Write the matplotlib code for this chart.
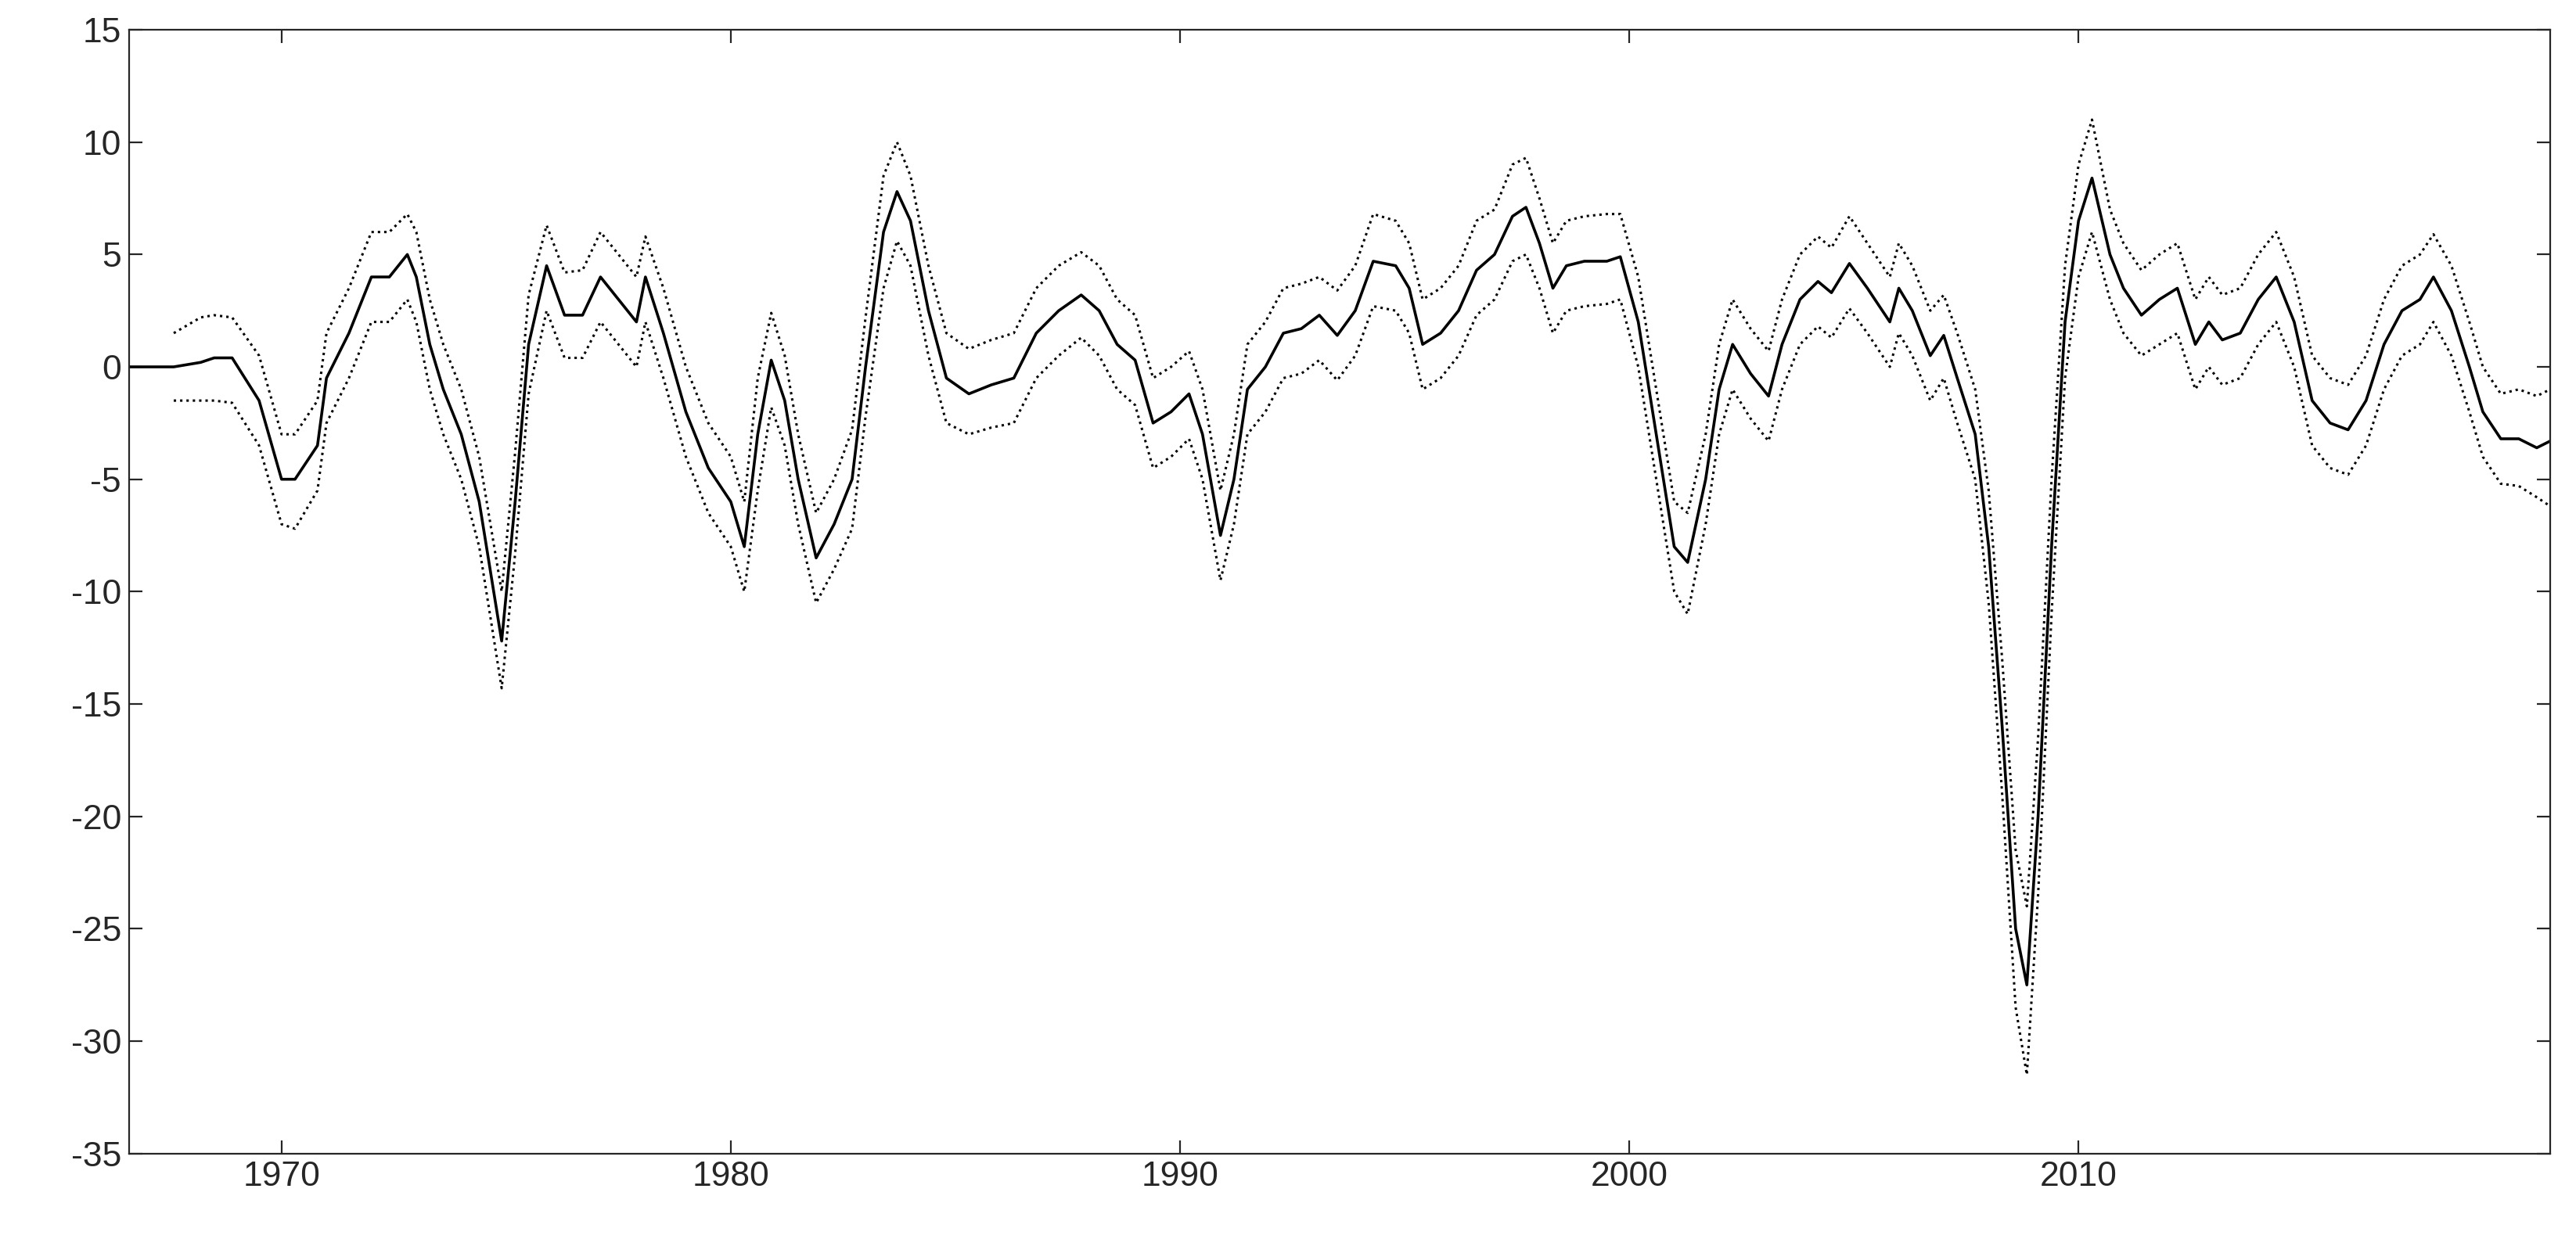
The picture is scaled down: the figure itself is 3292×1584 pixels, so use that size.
import numpy as np
import matplotlib
matplotlib.use('Agg')
from matplotlib import pyplot as plt

plt.rcParams['font.family'] = ['Liberation Sans', 'DejaVu Sans']
plt.rcParams['axes.unicode_minus'] = False

# dates (fractional years), central estimate, upper and lower bands
dates = [1966.6, 1967.6, 1968.2, 1968.5, 1968.9, 1969.5, 1970.0, 1970.3, 1970.8, 1971.0,
         1971.5, 1972.0, 1972.4, 1972.8, 1973.0, 1973.3, 1973.6, 1974.0, 1974.4, 1974.9,
         1975.2, 1975.5, 1975.9, 1976.3, 1976.7, 1977.1, 1977.5, 1977.9, 1978.1, 1978.5,
         1979.0, 1979.5, 1980.0, 1980.3, 1980.6, 1980.9, 1981.2, 1981.5, 1981.9, 1982.3,
         1982.7, 1983.0, 1983.4, 1983.7, 1984.0, 1984.4, 1984.8, 1985.3, 1985.8, 1986.3,
         1986.8, 1987.3, 1987.8, 1988.2, 1988.6, 1989.0, 1989.4, 1989.8, 1990.2, 1990.5,
         1990.9, 1991.2, 1991.5, 1991.9, 1992.3, 1992.7, 1993.1, 1993.5, 1993.9, 1994.3,
         1994.8, 1995.1, 1995.4, 1995.8, 1996.2, 1996.6, 1997.0, 1997.4, 1997.7, 1998.0,
         1998.3, 1998.6, 1999.0, 1999.5, 1999.8, 2000.2, 2000.6, 2001.0, 2001.3, 2001.7,
         2002.0, 2002.3, 2002.7, 2003.1, 2003.4, 2003.8, 2004.2, 2004.5, 2004.9, 2005.3,
         2005.8, 2006.0, 2006.3, 2006.7, 2007.0, 2007.3, 2007.7, 2008.0, 2008.3, 2008.6,
         2008.85, 2009.1, 2009.4, 2009.7, 2010.0, 2010.3, 2010.7, 2011.0, 2011.4, 2011.8,
         2012.2, 2012.6, 2012.9, 2013.2, 2013.6, 2014.0, 2014.4, 2014.8, 2015.2, 2015.6,
         2016.0, 2016.4, 2016.8, 2017.2, 2017.6, 2017.9, 2018.3, 2018.7, 2019.0, 2019.4,
         2019.8, 2020.2, 2020.5]

central = [0.0, 0.0, 0.2, 0.4, 0.4, -1.5, -5.0, -5.0, -3.5, -0.5,
           1.5, 4.0, 4.0, 5.0, 4.0, 1.0, -1.0, -3.0, -6.0, -12.2,
           -6.0, 1.0, 4.5, 2.3, 2.3, 4.0, 3.0, 2.0, 4.0, 1.5,
           -2.0, -4.5, -6.0, -8.0, -3.0, 0.3, -1.5, -5.0, -8.5, -7.0,
           -5.0, 0.0, 6.0, 7.8, 6.5, 2.5, -0.5, -1.2, -0.8, -0.5,
           1.5, 2.5, 3.2, 2.5, 1.0, 0.3, -2.5, -2.0, -1.2, -3.0,
           -7.5, -5.0, -1.0, 0.0, 1.5, 1.7, 2.3, 1.4, 2.5, 4.7,
           4.5, 3.5, 1.0, 1.5, 2.5, 4.3, 5.0, 6.7, 7.1, 5.5,
           3.5, 4.5, 4.7, 4.7, 4.9, 2.0, -3.0, -8.0, -8.7, -5.0,
           -1.0, 1.0, -0.3, -1.3, 1.0, 3.0, 3.8, 3.3, 4.6, 3.5,
           2.0, 3.5, 2.5, 0.5, 1.4, -0.5, -3.0, -8.0, -16.0, -25.0,
           -27.5, -20.0, -8.0, 2.0, 6.5, 8.4, 5.0, 3.5, 2.3, 3.0,
           3.5, 1.0, 2.0, 1.2, 1.5, 3.0, 4.0, 2.0, -1.5, -2.5,
           -2.8, -1.5, 1.0, 2.5, 3.0, 4.0, 2.5, 0.0, -2.0, -3.2,
           -3.2, -3.6, -3.3]

upper = [np.nan, 1.5, 2.2, 2.3, 2.2, 0.5, -3.0, -3.0, -1.5, 1.5,
         3.5, 6.0, 6.0, 6.8, 6.0, 3.0, 1.0, -1.0, -4.0, -10.0,
         -3.8, 3.2, 6.3, 4.2, 4.3, 6.0, 5.0, 4.0, 5.8, 3.5,
         0.0, -2.5, -4.0, -6.0, -0.5, 2.4, 0.5, -3.0, -6.5, -5.0,
         -2.8, 2.2, 8.5, 10.0, 8.5, 4.5, 1.5, 0.8, 1.2, 1.5,
         3.5, 4.5, 5.1, 4.5, 3.0, 2.3, -0.5, 0.0, 0.7, -1.0,
         -5.5, -3.0, 1.0, 2.0, 3.5, 3.7, 4.0, 3.4, 4.5, 6.8,
         6.5, 5.5, 3.0, 3.5, 4.5, 6.5, 7.0, 9.0, 9.3, 7.5,
         5.5, 6.5, 6.7, 6.8, 6.8, 4.0, -1.0, -6.0, -6.5, -3.0,
         1.0, 3.0, 1.7, 0.7, 3.0, 5.0, 5.8, 5.3, 6.7, 5.5,
         4.0, 5.5, 4.5, 2.5, 3.2, 1.5, -1.0, -5.5, -13.0, -21.5,
         -24.0, -16.5, -5.0, 4.5, 9.0, 11.0, 7.0, 5.5, 4.3, 5.0,
         5.5, 3.0, 4.0, 3.2, 3.5, 5.0, 6.0, 4.0, 0.5, -0.5,
         -0.8, 0.5, 3.0, 4.5, 5.0, 5.9, 4.5, 2.0, 0.0, -1.2,
         -1.0, -1.3, -1.0]

lower = [np.nan, -1.5, -1.5, -1.5, -1.6, -3.5, -7.0, -7.2, -5.5, -2.5,
         -0.5, 2.0, 2.0, 3.0, 2.0, -1.0, -3.0, -5.0, -8.0, -14.3,
         -8.3, -1.2, 2.5, 0.4, 0.4, 2.0, 1.0, 0.0, 2.0, -0.5,
         -4.0, -6.5, -8.0, -10.0, -5.5, -1.8, -3.5, -7.0, -10.5, -9.0,
         -7.2, -2.2, 3.5, 5.6, 4.5, 0.5, -2.5, -3.0, -2.7, -2.5,
         -0.5, 0.5, 1.3, 0.5, -1.0, -1.7, -4.5, -4.0, -3.2, -5.0,
         -9.5, -7.0, -3.0, -2.0, -0.5, -0.3, 0.3, -0.6, 0.5, 2.7,
         2.5, 1.5, -1.0, -0.5, 0.5, 2.3, 3.0, 4.7, 5.0, 3.5,
         1.5, 2.5, 2.7, 2.8, 3.0, 0.0, -5.0, -10.0, -11.0, -7.0,
         -3.0, -1.0, -2.3, -3.3, -1.0, 1.0, 1.8, 1.3, 2.6, 1.5,
         0.0, 1.5, 0.5, -1.5, -0.5, -2.5, -5.0, -10.5, -19.0, -28.5,
         -31.5, -23.5, -11.0, -0.5, 4.0, 6.0, 3.0, 1.5, 0.5, 1.0,
         1.5, -1.0, 0.0, -0.8, -0.5, 1.0, 2.0, 0.0, -3.5, -4.5,
         -4.8, -3.5, -1.0, 0.5, 1.0, 2.0, 0.5, -2.0, -4.0, -5.2,
         -5.3, -5.8, -6.2]

fig = plt.figure(figsize=(16.46, 7.92), dpi=200)
ax = fig.add_axes([0.05, 0.069, 0.94, 0.907])

ax.plot(dates, central, '-', color='black', linewidth=1.3)
ax.plot(dates, upper, ':', color='black', linewidth=1.1)
ax.plot(dates, lower, ':', color='black', linewidth=1.1)

ax.set_xlim(1966.6, 2020.5)
ax.set_ylim(-35, 15)
ax.set_yticks(np.arange(-35, 16, 5))
ax.set_xticks([1970, 1980, 1990, 2000, 2010])
ax.tick_params(direction='in', top=True, right=True, labelsize=16, length=6,
               colors='#262626', labelcolor='#262626')
for s in ax.spines.values():
    s.set_color('#262626')
    s.set_linewidth(0.8)

fig.savefig('out.png', dpi=200)
